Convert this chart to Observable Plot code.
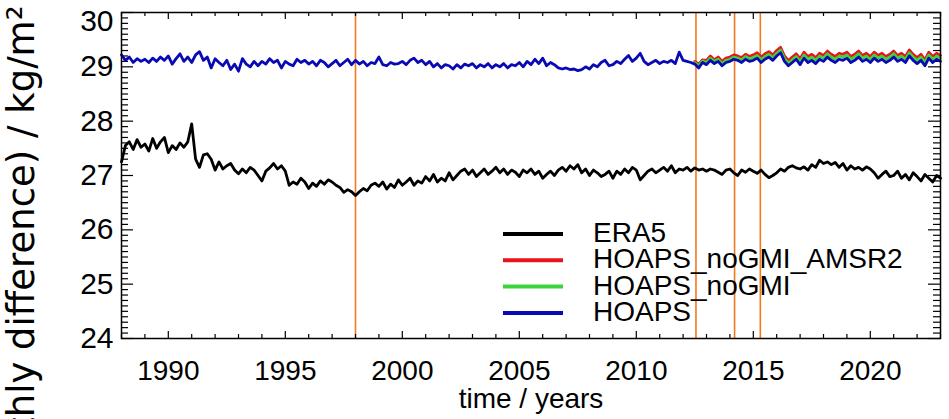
<!DOCTYPE html>
<html><head><meta charset="utf-8">
<script src="https://cdn.jsdelivr.net/npm/d3@7"></script>
<script src="https://cdn.jsdelivr.net/npm/@observablehq/plot@0.6"></script>
<style>body{margin:0;background:#fff} svg{display:block}</style>
</head><body><div id="chart"></div>
<script>
// ---- data (6 samples per year) ----
const seriesNames = ["ERA5", "HOAPS_noGMI_AMSR2", "HOAPS_noGMI", "HOAPS"];
const seriesColors = ["#000000", "#e8141b", "#3cd43a", "#0a0ab4"];
const samplesPerYear = 6;
const longStart = 1988;
const era5 = [
  27.25, 27.55, 27.62, 27.48, 27.66, 27.52,
  27.58, 27.45, 27.68, 27.50, 27.62, 27.70,
  27.42, 27.55, 27.48, 27.60, 27.52, 27.62,
  27.95, 27.30, 27.15, 27.38, 27.40, 27.30,
  27.10, 27.25, 27.12, 27.18, 27.22, 27.10,
  27.03, 27.12, 27.05, 27.15, 27.10, 27.00,
  26.90, 27.08, 27.14, 27.22, 27.12, 27.18,
  27.08, 26.82, 26.88, 26.84, 26.95, 26.88,
  26.76, 26.86, 26.80, 26.90, 26.84, 26.92,
  26.88, 26.82, 26.78, 26.69, 26.74, 26.70,
  26.63, 26.70, 26.76, 26.72, 26.82, 26.86,
  26.80, 26.88, 26.75, 26.84, 26.78, 26.92,
  26.82, 26.88, 26.95, 26.82, 26.90, 26.86,
  26.98, 26.90, 27.02, 26.88, 26.95, 26.90,
  27.05, 26.92, 27.00, 27.08, 27.12, 27.02,
  27.10, 26.98, 27.05, 27.12, 27.02, 27.08,
  27.15, 27.05, 27.12, 27.02, 27.10, 27.06,
  26.98, 27.10, 27.05, 27.12, 27.02, 27.08,
  26.95, 27.02, 27.08, 27.00, 27.10, 27.15,
  27.08, 27.18, 27.12, 27.20, 27.05, 27.12,
  27.00, 27.10, 27.05, 26.98, 27.02, 27.08,
  26.95, 27.08, 27.02, 27.12, 27.05, 27.15,
  27.10, 26.92, 27.00, 27.08, 27.12, 27.05,
  27.10, 27.15, 27.08, 27.18, 27.05, 27.12,
  27.10, 27.15, 27.08, 27.14, 27.10, 27.12,
  27.08, 27.12, 27.10, 27.06, 27.02, 27.10,
  27.12, 27.05, 27.00, 27.10, 27.06, 27.12,
  27.08, 27.04, 27.10, 27.02, 26.96, 27.00,
  27.05, 27.12, 27.08, 27.15, 27.18, 27.14,
  27.12, 27.16, 27.10, 27.20, 27.15, 27.28,
  27.22, 27.25, 27.20, 27.24, 27.15, 27.22,
  27.10, 27.18, 27.12, 27.15, 27.10, 27.16,
  27.12, 27.05, 26.95, 27.02, 27.08, 26.98,
  27.00, 27.08, 26.95, 27.02, 26.92, 27.05,
  26.98, 26.90, 27.02, 26.95, 26.88, 27.00,
  26.95
];
const hoaps = [
  29.22, 29.12, 29.18, 29.08, 29.15, 29.10,
  29.14, 29.08, 29.16, 29.10, 29.18, 29.12,
  29.20, 29.05, 29.15, 29.24, 29.10, 29.18,
  29.08, 29.22, 29.28, 29.12, 29.18, 28.98,
  29.15, 29.08, 29.02, 29.12, 28.95, 29.05,
  28.92, 29.15, 29.05, 29.00, 29.10, 29.02,
  29.10, 29.05, 29.15, 29.08, 29.12, 28.98,
  29.10, 29.05, 29.02, 29.14, 29.08, 29.12,
  29.05, 29.10, 29.02, 29.12, 29.08, 29.00,
  29.06, 29.12, 29.02, 29.08, 29.14, 29.04,
  29.12, 29.05, 29.10, 29.02, 29.08, 29.06,
  29.18, 29.04, 29.02, 29.08, 29.05, 29.06,
  29.10, 29.04, 29.12, 29.16, 29.08, 29.12,
  29.04, 29.10, 29.00, 29.06, 28.98, 29.04,
  29.02, 28.96, 29.04, 28.98, 29.05, 29.02,
  29.06, 28.98, 29.04, 29.00, 29.06, 28.98,
  29.04, 29.00, 29.06, 28.98, 29.04, 29.02,
  29.08, 29.00, 29.10, 29.04, 29.14, 29.06,
  29.16, 29.02, 29.08, 29.04, 28.98, 28.96,
  28.98, 28.95, 28.96, 28.93, 28.95, 29.00,
  28.96, 29.04, 29.00, 29.08, 29.12, 29.02,
  29.04, 29.10, 29.06, 29.14, 29.21, 29.10,
  29.16, 29.25, 29.10, 29.04, 29.08, 29.12,
  29.06, 29.10, 29.08, 29.12, 29.06, 29.27,
  29.12, 29.10, 29.08, 29.05, 28.98, 29.08,
  29.04, 29.12, 29.06, 29.10, 29.02, 29.08,
  29.10, 29.14, 29.12, 29.08, 29.14, 29.10,
  29.12, 29.16, 29.08, 29.14, 29.18, 29.12,
  29.20, 29.26, 29.10, 29.02, 29.08, 29.14,
  29.04, 29.16, 29.08, 29.12, 29.06, 29.14,
  29.10, 29.18, 29.12, 29.08, 29.14, 29.12,
  29.16, 29.08, 29.12, 29.18, 29.10, 29.14,
  29.08, 29.16, 29.10, 29.14, 29.08, 29.12,
  29.18, 29.10, 29.14, 29.08, 29.20, 29.12,
  29.06, 29.12, 29.02, 29.16, 29.08, 29.14,
  29.10
];
const shortStart = 2012.5;
const hoapsNoGmiAmsr2 = [
                     29.10, 29.05, 29.13,
  29.12, 29.20, 29.13, 29.18, 29.10, 29.16,
  29.18, 29.22, 29.20, 29.17, 29.23, 29.19,
  29.22, 29.26, 29.18, 29.24, 29.28, 29.22,
  29.30, 29.36, 29.20, 29.12, 29.18, 29.24,
  29.15, 29.27, 29.19, 29.23, 29.17, 29.25,
  29.21, 29.29, 29.23, 29.19, 29.25, 29.23,
  29.27, 29.19, 29.23, 29.29, 29.21, 29.25,
  29.19, 29.27, 29.21, 29.25, 29.19, 29.23,
  29.29, 29.21, 29.25, 29.19, 29.31, 29.23,
  29.17, 29.23, 29.13, 29.27, 29.19, 29.25,
  29.21
];
const hoapsNoGmi = [
                     29.08, 29.02, 29.11,
  29.08, 29.16, 29.10, 29.14, 29.06, 29.12,
  29.14, 29.18, 29.16, 29.13, 29.19, 29.15,
  29.17, 29.21, 29.13, 29.19, 29.23, 29.17,
  29.25, 29.31, 29.15, 29.07, 29.13, 29.19,
  29.10, 29.22, 29.14, 29.18, 29.12, 29.20,
  29.16, 29.24, 29.18, 29.14, 29.20, 29.18,
  29.22, 29.14, 29.18, 29.24, 29.16, 29.20,
  29.14, 29.22, 29.16, 29.20, 29.14, 29.18,
  29.24, 29.16, 29.20, 29.14, 29.26, 29.18,
  29.12, 29.18, 29.08, 29.22, 29.14, 29.20,
  29.16
];
const eventYears = [1998.0, 2012.55, 2014.2, 2015.3];
const xTickLabels = [1990, 1995, 2000, 2005, 2010, 2015, 2020];
const yTickLabels = [24, 25, 26, 27, 28, 29, 30];
const xTitle = "time / years";
const yTitle = "(monthly difference) / kg/m²";

// ---- build tables ----
const toRows = (start, vals) => vals.map((v, i) => ({t: start + i / samplesPerYear, v}));
const series = [
  toRows(longStart, era5),
  toRows(shortStart, hoapsNoGmiAmsr2),
  toRows(shortStart, hoapsNoGmi),
  toRows(longStart, hoaps)
];

const xDomain = [1988, 2023];
const yDomain = [24, 30];
const W = 949, H = 419, mL = 121, mR = 9, mT = 12, mB = 81;
const xPerPx = (xDomain[1] - xDomain[0]) / (W - mL - mR);
const yPerPx = (yDomain[1] - yDomain[0]) / (H - mT - mB);

const yearTicks = d3.range(1988, 2024);
const yMinor = d3.range(240, 301).map(d => d / 10);
const isMajorX = d => d % 5 === 0;
const isMajorY = d => Math.abs(d - Math.round(d)) < 1e-6;
const tickLen = (major, a, b) => major ? a : b;

const marks = [
  Plot.ruleX(eventYears, {stroke: "#f07a20", strokeWidth: 1.6}),
  Plot.ruleX(yearTicks, {x: d => d, y1: yDomain[0], y2: d => yDomain[0] + tickLen(isMajorX(d), 7, 4) * yPerPx, stroke: "black", strokeWidth: 1.2}),
  Plot.ruleX(yearTicks, {x: d => d, y1: yDomain[1], y2: d => yDomain[1] - tickLen(isMajorX(d), 7, 4) * yPerPx, stroke: "black", strokeWidth: 1.2}),
  Plot.ruleY(yMinor, {y: d => d, x1: xDomain[0], x2: d => xDomain[0] + tickLen(isMajorY(d), 12, 7) * xPerPx, stroke: "black", strokeWidth: 1.2}),
  Plot.ruleY(yMinor, {y: d => d, x1: xDomain[1], x2: d => xDomain[1] - tickLen(isMajorY(d), 12, 7) * xPerPx, stroke: "black", strokeWidth: 1.2}),
  ...series.map((rows, k) => Plot.line(rows, {x: "t", y: "v", stroke: seriesColors[k], strokeWidth: 2.8, strokeLinejoin: "round"})),
  Plot.frame({stroke: "black", strokeWidth: 1.5}),
  Plot.axisX(xTickLabels, {tickSize: 0, tickPadding: 22, tickFormat: d => String(d), fontSize: 28,
    label: xTitle, labelAnchor: "center", labelOffset: 69, labelArrow: "none"}),
  Plot.axisY(yTickLabels.filter(d => d !== 30), {tickSize: 0, tickPadding: 8, fontSize: 30, tickFormat: d => String(d), label: null}),
  Plot.axisY(yTickLabels.filter(d => d === 30), {tickSize: 0, tickPadding: 8, fontSize: 30, tickFormat: d => String(d), label: null, dy: 9}),
  Plot.text([yTitle], {text: d => d, frameAnchor: "top-left", rotate: -90, textAnchor: "end", lineAnchor: "middle",
    dx: -99, dy: -7, fontSize: 37, fontFamily: "DejaVu Sans", fill: "black"})
];

const chart = Plot.plot({
  width: W, height: H,
  marginLeft: mL, marginRight: mR, marginTop: mT, marginBottom: mB,
  x: {domain: xDomain},
  y: {domain: yDomain},
  style: {fontFamily: "'Liberation Sans', Arial, sans-serif", fontSize: "28px", color: "black", background: "white", overflow: "visible"},
  marks
});

// legend inside the plot frame
const svg = d3.select(chart);
const legendTop = 234, lineX1 = 503, lineX2 = 563, textX = 593, rowH = 26.3;
const lg = svg.append("g").attr("text-anchor", "start");
seriesNames.forEach((name, k) => {
  const y = legendTop + k * rowH;
  lg.append("line").attr("x1", lineX1).attr("x2", lineX2).attr("y1", y).attr("y2", y)
    .attr("stroke", seriesColors[k]).attr("stroke-width", 4);
  lg.append("text").attr("x", textX).attr("y", y + 8).attr("text-anchor", "start").text(name)
    .attr("font-size", 28).attr("font-family", "'Liberation Sans', Arial, sans-serif").attr("fill", "black");
});

document.getElementById("chart").append(chart);
</script>
</body></html>
